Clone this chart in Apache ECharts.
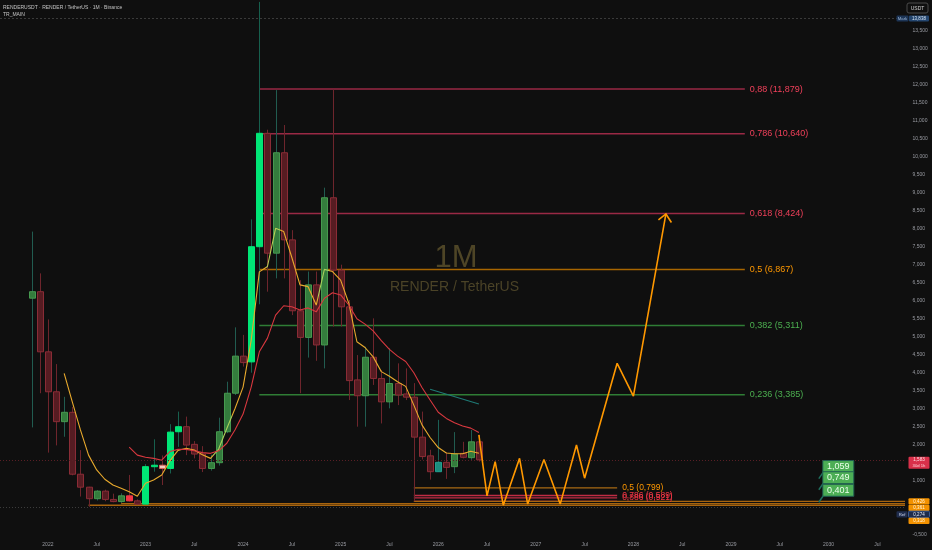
<!DOCTYPE html>
<html><head><meta charset="utf-8">
<script src="https://cdn.jsdelivr.net/npm/echarts@6/dist/echarts.min.js"></script>
<style>html,body{margin:0;padding:0;background:#0f0f0f;}#c{width:932px;height:550px;}</style>
</head><body><div id="c"></div>
<script>
// ---------------- DATA ----------------
const months = ['2021-11','2021-12','2022-01','2022-02','2022-03','2022-04','2022-05','2022-06','2022-07','2022-08','2022-09','2022-10','2022-11','2022-12','2023-01','2023-02','2023-03','2023-04','2023-05','2023-06','2023-07','2023-08','2023-09','2023-10','2023-11','2023-12','2024-01','2024-02','2024-03','2024-04','2024-05','2024-06','2024-07','2024-08','2024-09','2024-10','2024-11','2024-12','2025-01','2025-02','2025-03','2025-04','2025-05','2025-06','2025-07','2025-08','2025-09','2025-10','2025-11','2025-12','2026-01','2026-02','2026-03','2026-04','2026-05','2026-06'];
const open  = [6.07,6.25,4.58,3.47,2.64,2.90,1.18,0.82,0.50,0.71,0.48,0.42,0.58,0.44,0.35,1.39,1.43,1.34,2.36,2.50,2.01,1.74,1.34,1.50,2.36,3.43,4.46,4.30,7.50,10.65,7.32,10.11,7.69,5.72,4.98,6.44,4.77,8.86,6.85,5.83,3.80,3.36,4.43,3.84,3.19,3.70,3.41,3.32,2.21,1.69,1.25,1.51,1.39,1.76,1.64,2.08];
const high  = [7.92,6.76,5.48,4.24,3.33,3.05,1.85,0.83,0.74,0.75,0.64,0.65,1.16,0.48,1.46,2.15,1.70,2.57,2.92,2.78,2.10,1.96,1.72,2.75,3.75,5.26,5.05,8.26,14.30,10.75,11.85,10.88,7.96,6.57,6.81,6.81,9.14,11.87,7.00,6.02,4.49,4.72,5.51,4.07,4.68,4.26,4.12,3.71,2.92,1.86,2.69,1.79,2.35,2.08,2.41,2.27];
const low   = [2.48,3.43,1.78,1.98,2.22,1.15,0.56,0.274,0.45,0.43,0.40,0.38,0.42,0.33,0.35,1.25,0.88,1.20,1.94,1.71,1.62,1.24,1.28,1.42,2.32,3.38,4.17,4.00,5.90,6.25,6.62,6.62,5.60,3.43,4.42,4.33,4.12,5.28,5.28,3.24,2.50,2.50,3.66,2.59,3.01,3.10,3.24,0.43,1.59,1.03,1.25,1.05,1.21,1.62,1.58,1.53];
const close = [6.25,4.58,3.47,2.64,2.90,1.18,0.82,0.50,0.71,0.48,0.42,0.58,0.44,0.35,1.39,1.43,1.34,2.35,2.50,1.99,1.74,1.34,1.50,2.36,3.43,4.46,4.28,7.50,10.65,7.32,10.11,7.69,5.72,4.98,6.44,4.77,8.86,6.85,5.83,3.78,3.36,4.43,3.84,3.19,3.70,3.38,3.32,2.21,1.67,1.25,1.51,1.37,1.74,1.65,2.08,1.58];
// indicator state of each candle (TR_MAIN colouring)
const candleState = ['G','R','R','R','G','R','R','R','G','R','R','G','BR','R','BG','BG','PK','BG','BG','R','R','R','G','G','G','G','R','BG','BG','R','G','R','R','R','G','R','G','R','R','R','R','G','R','R','G','R','R','R','R','R','TL','R','G','R','G','R'];
const fastLine = [null,null,null,null,3.98,3.19,2.41,1.71,1.30,1.04,0.88,0.79,0.69,0.57,0.93,1.02,1.16,1.55,1.84,1.90,1.85,1.72,1.62,1.88,2.45,3.00,3.60,4.90,6.80,6.95,8.01,7.92,7.20,6.44,6.39,5.88,6.87,6.81,6.57,5.93,4.86,4.70,4.44,4.03,3.90,3.75,3.62,3.10,2.55,2.20,1.92,1.77,1.75,1.75,1.82,1.76];
const slowLine = [null,null,null,null,null,null,null,null,null,null,null,null,1.93,1.71,1.65,1.62,1.57,1.81,1.87,1.87,1.83,1.78,1.76,1.83,2.04,2.41,2.85,3.60,4.58,4.96,5.60,5.86,5.83,5.74,5.80,5.69,6.07,6.22,6.16,5.88,5.50,5.35,5.16,4.89,4.65,4.46,4.31,4.00,3.59,3.24,2.90,2.73,2.61,2.52,2.46,2.34];
const tealMonths = ['2025-12','2026-06'];
const tealValues = [3.54, 3.13];
const zigMonths = ['2026-06','2026-07','2026-08','2026-09','2026-11','2026-12','2027-02','2027-04','2027-06','2027-07','2027-11','2028-01','2028-05'];
const zigValues = [2.27,0.58,1.53,0.32,1.62,0.35,1.59,0.35,1.99,1.07,4.26,3.35,8.41];
// fibonacci retracement drawings
const fibTopRange = [26, 85.7];           // month index of start / end of drawing
const fibTopLevels = ['0,88','0,786','0,618','0,5','0,382','0,236'];
const fibTopPrices = [11.879,10.640,8.424,6.867,5.311,3.385];
const fibLowRange = [45, 70.0];
const fibLowLevels = ['0,5','0,786','0,886',''];
const fibLowPrices = [0.799,0.589,0.521,0.432];
// horizontal rays to the price scale
const rayStartMonths = [45, 9, 5];
const rayPrices = [0.426, 0.361, 0.318];
const refPrice = 0.274;
const markPrice = 13.838;
const lastPrice = 1.58;
const lastPriceText = '1,583';
const countdownText = '30d 1h';
// price labels drawn at the right
const calloutMonth = 94.8;
const calloutPrices = [1.059, 0.749, 0.401];
// axes
const yTicks = [-0.5,1,2,2.5,3,3.5,4,4.5,5,5.5,6,6.5,7,7.5,8,8.5,9,9.5,10,10.5,11,11.5,12,12.5,13,13.5];
const xTickMonths = ['2022-01','2022-07','2023-01','2023-07','2024-01','2024-07','2025-01','2025-07','2026-01','2026-07','2027-01','2027-07','2028-01','2028-07','2029-01','2029-07','2030-01','2030-07'];
const xTickLabels = ['2022','Jul','2023','Jul','2024','Jul','2025','Jul','2026','Jul','2027','Jul','2028','Jul','2029','Jul','2030','Jul'];

// ---------------- CHART ----------------
const FONT = '"Liberation Sans", Arial, sans-serif';
const mIdx = s => { const p = s.split('-').map(Number); return (p[0]-2022)*12 + (p[1]-1); };
const X_MIN = -5.89, X_MAX = 105.40, Y_MIN = -0.564, Y_MAX = 14.353;
const fmt = v => v.toFixed(3).replace('.', ',');

const candleStyle = {
  R:  {fill:'#561c22', stroke:'#8a2c36', wick:'#6e252c'},
  G:  {fill:'#347c3d', stroke:'#46994f', wick:'#215c50'},
  BG: {fill:'#00e676', stroke:'#00e676', wick:'#17604e'},
  BR: {fill:'#f23645', stroke:'#f23645', wick:'#6e252c'},
  PK: {fill:'#f4cbbf', stroke:'#d9645e', wick:'#6e252c'},
  TL: {fill:'#1c8c7e', stroke:'#22a090', wick:'#1b5f55'}
};

const chart = echarts.init(document.getElementById('c'), null, {renderer:'canvas'});

function renderCandle(params, api){
  const st = candleStyle[candleState[params.dataIndex]];
  const x = api.value(0);
  const pO = api.coord([x, api.value(1)]);
  const pC = api.coord([x, api.value(2)]);
  const pL = api.coord([x, api.value(3)]);
  const pH = api.coord([x, api.value(4)]);
  const w = Math.round(api.size([1,0])[0]*0.74);
  const cx = Math.round(pO[0]) + 0.5;
  const top = Math.min(pO[1], pC[1]), bot = Math.max(pO[1], pC[1]);
  return {type:'group', children:[
    {type:'line', shape:{x1:cx, y1:pH[1], x2:cx, y2:pL[1]}, style:{stroke:st.wick, lineWidth:1}},
    {type:'rect', shape:{x:cx - w/2, y:top, width:w, height:Math.max(bot-top,1.5)}, style:{fill:st.fill, stroke:st.stroke, lineWidth:1}}
  ]};
}

// a horizontal drawing segment as its own line series
function levelSeries(x1, x2, price, color, text, labelColor, fs, lw){
  return {type:'line', z:1, silent:true, symbol:'none', animation:false,
    color:color, lineStyle:{color:color, width:lw},
    data:[[x1, price],[x2, price]],
    endLabel:{show:!!text, formatter:text || '', color:labelColor, fontSize:fs, fontFamily:FONT, distance:5}};
}
const topColors = ['#9a2945','#9a2945','#9a2945','#a86600','#2f7d35','#2f7d35'];
const topLabelColors = ['#f0405a','#f0405a','#f0405a','#ff9800','#4caf50','#4caf50'];
const lowColors = ['#a86a14','#c02c44','#c02c44','#7a2030'];
const lowLabelColors = ['#ff9800','#f23645','#f23645','#f23645'];

const levelSeriesList = [];
fibTopPrices.forEach((p,k)=> levelSeriesList.push(levelSeries(fibTopRange[0], fibTopRange[1], p, topColors[k], fibTopLevels[k] + ' (' + fmt(p) + ')', topLabelColors[k], 9, 1.5)));
fibLowPrices.forEach((p,k)=> levelSeriesList.push(levelSeries(fibLowRange[0], fibLowRange[1], p, lowColors[k], fibLowLevels[k] ? fibLowLevels[k] + ' (' + fmt(p) + ')' : '', lowLabelColors[k], 8.5, 1.3)));
rayPrices.forEach((p,k)=> levelSeriesList.push(levelSeries(rayStartMonths[k], X_MAX, p, '#a8640e', '', '#000', 8, 1.3)));

const option = {
  backgroundColor:'#0f0f0f',
  animation:false,
  grid:{left:0, right:27, top:0, bottom:13, containLabel:false},
  xAxis:{type:'value', min:X_MIN, max:X_MAX,
    axisLine:{show:false}, axisTick:{show:false}, splitLine:{show:false},
    axisLabel:{customValues: xTickMonths.map(mIdx), formatter: v => xTickLabels[xTickMonths.map(mIdx).indexOf(v)] || '',
      color:'#9a9ca3', fontSize:5, fontFamily:FONT, margin:5}},
  yAxis:{type:'value', position:'right', min:Y_MIN, max:Y_MAX,
    axisLine:{show:false}, axisTick:{show:false}, splitLine:{show:false},
    axisLabel:{customValues: yTicks, formatter: v => fmt(v), color:'#9a9ca3', fontSize:5, fontFamily:FONT, margin:7.5}},
  visualMap:[{type:'piecewise', show:false, seriesIndex:2, dimension:0,
    pieces:[{lt:20.3, color:'#e8a92c'},{gte:20.3, lt:22.6, color:'#a8cf5a'},{gte:22.6, lt:26.8, color:'#e8a92c'},
            {gte:26.8, lt:28.6, color:'#b9cf55'},{gte:28.6, lt:33.2, color:'#e8a92c'},{gte:33.2, lt:34.6, color:'#a8cf5a'},{gte:34.6, color:'#e8a92c'}]}],
  series:[
    {name:'levels', type:'line', data:[], z:1, silent:true,
     markLine:{silent:true, symbol:'none', animation:false, data:[
       {yAxis: refPrice, lineStyle:{color:'#3c3c3c', type:[1,2], width:1}, label:{show:false}},
       {yAxis: lastPrice, lineStyle:{color:'#5a1f25', type:[1,2], width:1}, label:{show:false}},
       {yAxis: markPrice, lineStyle:{color:'#3a3a3a', type:[2,2], width:1}, label:{show:false}}
     ]}},
    {name:'RENDERUSDT', type:'custom', renderItem:renderCandle, z:3, clip:true,
     encode:{x:0, y:[1,2,3,4]},
     data: months.map((s,i)=>[mIdx(s), open[i], close[i], low[i], high[i]])},
    {name:'fast', type:'line', z:4, symbol:'none', silent:true, lineStyle:{width:1.1},
     data: months.map((s,i)=>[mIdx(s), fastLine[i]]).filter(d=>d[1]!=null)},
    {name:'slow', type:'line', z:4, symbol:'none', silent:true, color:'#d8383f', lineStyle:{width:1.1, color:'#d8383f'},
     data: months.map((s,i)=>[mIdx(s), slowLine[i]]).filter(d=>d[1]!=null)},
    {name:'teal', type:'line', z:4, symbol:'none', silent:true, color:'#1f7b76', lineStyle:{width:1.1, color:'#1f7b76'},
     data: tealMonths.map((s,i)=>[mIdx(s), tealValues[i]])},
    {name:'projection', type:'line', z:5, symbol:'none', silent:true, color:'#ff9800', lineStyle:{width:1.6, color:'#ff9800'},
     data: zigMonths.map((s,i)=>[mIdx(s), zigValues[i]])}
  ].concat(levelSeriesList)
};
chart.setOption(option);

// ---------------- overlays positioned through the chart's scales ----------------
const py = v => chart.convertToPixel({yAxisIndex:0}, v);
const pxy = (m,v) => chart.convertToPixel({xAxisIndex:0, yAxisIndex:0}, [m, v]);
const G = [];
function txt(x, y, text, color, size, align){
  return {type:'text', x:x, y:y, z:101, silent:true,
    style:{text:text, fill:color, font:size + 'px ' + FONT, align:align||'left', verticalAlign:'middle', textAlign:align||'left', textVerticalAlign:'middle'}};
}
function boxTxt(x, y, w, h, fill, stroke, text, color, size){
  G.push({type:'rect', z:100, silent:true, shape:{x:x, y:y, width:w, height:h, r:1}, style:{fill:fill, stroke:stroke||null, lineWidth:1}});
  G.push(txt(x + w/2, y + h/2 + 0.3, text, color, size, 'center'));
}
// watermark
G.push({type:'text', x:456, y:258, z:0, silent:true, style:{text:'1M', fill:'#4e4526', font:'31px ' + FONT, align:'center', verticalAlign:'middle', textAlign:'center', textVerticalAlign:'middle'}});
G.push({type:'text', x:454.5, y:287, z:0, silent:true, style:{text:'RENDER / TetherUS', fill:'#4b4327', font:'14px ' + FONT, align:'center', verticalAlign:'middle', textAlign:'center', textVerticalAlign:'middle'}});
// header
G.push(txt(3, 7.5, 'RENDERUSDT · RENDER / TetherUS · 1M · Binance', '#c4c4c4', 5, 'left'));
G.push(txt(3, 14.5, 'TR_MAIN', '#c4c4c4', 5, 'left'));
// USDT button
G.push({type:'rect', z:100, silent:true, shape:{x:907, y:3, width:21, height:10, r:2}, style:{fill:'#0f0f0f', stroke:'#4a4a4a', lineWidth:1}});
G.push(txt(917.5, 8.2, 'USDT', '#cfcfcf', 5, 'center'));
// mark price label
const ym = py(markPrice);
boxTxt(896.5, ym - 3, 12, 6, '#1d3556', null, 'Mark', '#9db6d6', 4.2);
boxTxt(909, ym - 3, 20, 6, '#24466f', null, fmt(markPrice), '#d5e3f3', 4.5);
// last price label
const yl = py(lastPrice);
G.push({type:'rect', z:100, silent:true, shape:{x:908.5, y:yl - 3, width:21, height:12, r:1}, style:{fill:'#d9304a'}});
G.push(txt(919, yl + 0.2, lastPriceText, '#ffe0e4', 4.6, 'center'));
G.push(txt(919, yl + 5.6, countdownText, '#ffd0d6', 4.2, 'center'));
// stacked price-scale labels
const stack = [
  {v:rayPrices[0], t:fmt(rayPrices[0]), kind:'o'},
  {v:rayPrices[1], t:fmt(rayPrices[1]), kind:'o'},
  {v:refPrice, t:fmt(refPrice), kind:'ref'},
  {v:rayPrices[2], t:fmt(rayPrices[2]), kind:'o'}
];
let prevY = -1e9;
stack.forEach(s => {
  let y = Math.max(py(s.v), prevY + 6.5);
  prevY = y;
  if (s.kind === 'o') boxTxt(908.5, y - 3.2, 21, 6.4, '#f29100', null, s.t, '#fff4dc', 4.5);
  else {
    boxTxt(896.5, y - 3.2, 11, 6.4, '#1f2c4c', null, 'Ref', '#c9d2e8', 4.3);
    boxTxt(908.5, y - 3.2, 21, 6.4, '#1f2c4c', '#3b5a92', s.t, '#e2e8f6', 4.5);
  }
});
// green price-label callouts
calloutPrices.forEach(v => {
  const p = pxy(calloutMonth, v);
  G.push({type:'line', z:99, silent:true, shape:{x1:p[0], y1:p[1], x2:p[0]+4.5, y2:p[1]-6.5}, style:{stroke:'#1f6f5e', lineWidth:1.5}});
  G.push({type:'rect', z:100, silent:true, shape:{x:p[0]+4, y:p[1]-18, width:31, height:12}, style:{fill:'#4cae55', stroke:'#1f5f52', lineWidth:1}});
  G.push(txt(p[0]+19.5, p[1]-11.8, fmt(v), '#eaffea', 9, 'center'));
});
// arrow head of the projection
const tip = pxy(mIdx(zigMonths[zigMonths.length-1]), zigValues[zigValues.length-1]);
G.push({type:'polyline', z:6, silent:true, shape:{points:[[tip[0]-7.5, tip[1]+6],[tip[0], tip[1]],[tip[0]+5.5, tip[1]+8.5]]}, style:{stroke:'#ff9800', lineWidth:1.6, fill:null}});
chart.setOption({graphic:{elements:G}});
</script>
</body></html>
